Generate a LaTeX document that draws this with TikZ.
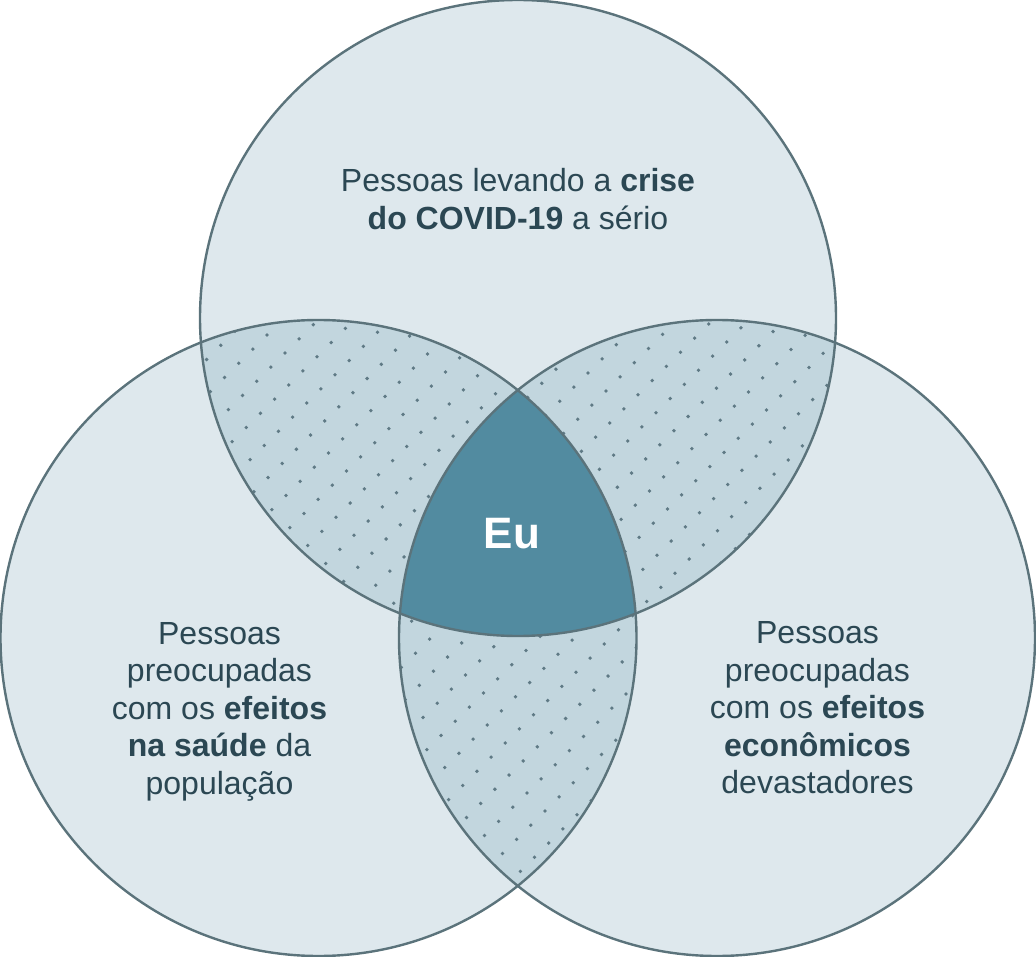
\documentclass[tikz,border=0pt]{standalone}
\usepackage{fontspec}
\setmainfont{Liberation Sans}
\definecolor{cfill}{HTML}{DEE8ED}
\definecolor{lfill}{HTML}{C2D6DE}
\definecolor{efill}{HTML}{528BA0}
\definecolor{edge}{HTML}{5B737B}
\definecolor{ink}{HTML}{2B4753}
\definecolor{dotc}{HTML}{5F7A85}
\newcommand\dotgrid[4]{%
  \foreach \i in {#1,...,#2}{%
    \foreach \j in {#3,...,#4}{%
      \fill[dotc] ({267+17.95*\i-14.15*\j},{335+17.95*\i+14.15*\j}) circle[radius=1.9pt];}}}
\begin{document}
\begin{tikzpicture}[x=1pt,y=-1pt,
  txt/.style={align=center,text=ink,inner sep=0pt,font=\fontsize{32}{37.5}\selectfont},
  ring/.style={draw=edge,line width=2.4pt}]
\useasboundingbox (0,0) rectangle (1036,957);
\coordinate (T) at (518,318);
\coordinate (L) at (318.5,638);
\coordinate (R) at (717,638);
% base fills
\fill[cfill] (T) circle[radius=318pt];
\fill[cfill] (L) circle[radius=318pt];
\fill[cfill] (R) circle[radius=318pt];
% pairwise lenses with dots
\begin{scope}
  \clip (T) circle[radius=318pt];
  \clip (L) circle[radius=318pt];
  \fill[lfill] (0,0) rectangle (1036,957);
  \dotgrid{-3}{16}{-10}{14}
\end{scope}
\begin{scope}
  \clip (T) circle[radius=318pt];
  \clip (R) circle[radius=318pt];
  \fill[lfill] (0,0) rectangle (1036,957);
  \dotgrid{6}{25}{-21}{2}
\end{scope}
\begin{scope}
  \clip (L) circle[radius=318pt];
  \clip (R) circle[radius=318pt];
  \fill[lfill] (0,0) rectangle (1036,957);
  \dotgrid{5}{26}{-12}{15}
\end{scope}
% centre
\begin{scope}
  \clip (T) circle[radius=318pt];
  \clip (L) circle[radius=318pt];
  \fill[efill] (R) circle[radius=318pt];
\end{scope}
% outlines
\draw[ring] (T) circle[radius=318pt];
\draw[ring] (L) circle[radius=318pt];
\draw[ring] (R) circle[radius=318pt];
% labels
\node[txt] (tt) at (518,199) {Pessoas levando a \textbf{crise}\\\textbf{do COVID-19} a sério};
\node[txt] (lt) at (219.5,711.5) {Pessoas\\preocupadas\\com os \textbf{efeitos}\\\textbf{na saúde} da\\população};
\node[txt] (rt) at (817.5,708) {Pessoas\\preocupadas\\com os \textbf{efeitos}\\\textbf{econômicos}\\devastadores};
\node[inner sep=0pt,text=white,font=\bfseries\fontsize{44}{48}\selectfont] (eu) at (512,534) {Eu};
\end{tikzpicture}
\end{document}
